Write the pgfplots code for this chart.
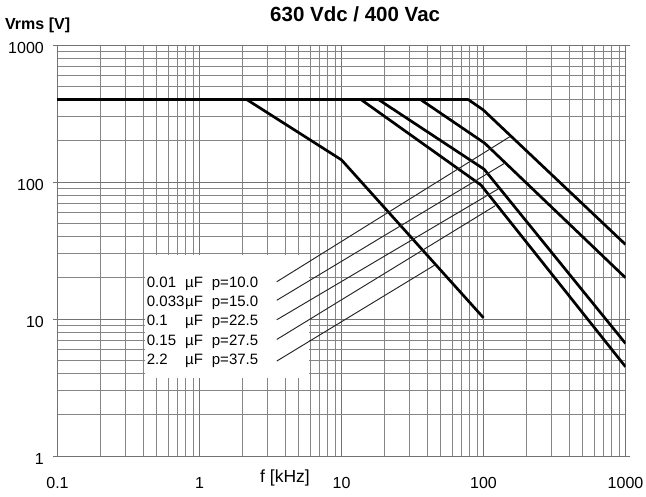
\documentclass[border=0pt]{standalone}
\usepackage{fontspec}
\setmainfont{Liberation Sans}
\usepackage{pgfplots}
\pgfplotsset{compat=1.18}
\begin{document}
\begin{tikzpicture}
\useasboundingbox (0,0) rectangle (646bp,497bp);
\begin{axis}[
  at={(57.5bp,41bp)}, anchor=south west,
  width=568bp, height=411bp, scale only axis,
  xmode=log, ymode=log,
  xmin=0.1, xmax=1000, ymin=1, ymax=1000,
  xtick={0.1,1,10,100,1000}, xticklabels={0.1,1,10,100,1000},
  ytick={1,10,100,1000}, yticklabels={1,10,100,1000},
  grid=both,
  major grid style={black!55, line width=0.85bp},
  minor grid style={black!48, line width=0.85bp},
  axis line style={black!55, line width=0.85bp},
  tick align=outside, major tick length=5bp, minor tick length=0bp,
  xtick style={draw=none},
  ytick style={black!55, line width=0.85bp},
  minor tick style={draw=none},
  ticklabel style={font=\fontsize{16bp}{18bp}\selectfont},
  xticklabel style={anchor=center, inner sep=0pt, yshift=-22bp},
  yticklabel style={anchor=east, inner sep=0pt, xshift=-8.5bp, yshift=-3bp},
  title={630 Vdc / 400 Vac},
  title style={font=\bfseries\fontsize{20.5bp}{23bp}\selectfont, at={(axis description cs:0.524,1)}, anchor=center, yshift=25bp},
  xlabel={f [kHz]},
  xlabel style={font=\fontsize{17.5bp}{20bp}\selectfont, at={(axis description cs:0.4005,0)}, anchor=center, inner sep=0pt, yshift=-22bp},
  ylabel={Vrms [V]},
  ylabel style={font=\bfseries\fontsize{16bp}{18bp}\selectfont, at={(axis description cs:0,1)}, rotate=-90, anchor=west, inner sep=0pt, xshift=-52.5bp, yshift=20bp},
]
% white box behind the legend text
\fill[white] (axis cs:0.41,3.72) rectangle (axis cs:5.9,29.3);
% curves
\addplot[black, line width=2.7bp, line join=round] coordinates {(0.1,400) (2.15,400) (10,145) (100,10.2)};
\addplot[black, line width=2.7bp, line join=round] coordinates {(0.1,400) (13.7,400) (96,95) (1000,4.48)};
\addplot[black, line width=2.7bp, line join=round] coordinates {(0.1,400) (18.2,400) (101,124) (1000,6.63)};
\addplot[black, line width=2.7bp, line join=round] coordinates {(0.1,400) (36,400) (102,192) (1000,20)};
\addplot[black, line width=2.7bp, line join=round] coordinates {(0.1,400) (78,400) (99.5,336) (1000,35)};
% leader lines
\addplot[black!85, line width=0.95bp] coordinates {(3.5,18.7) (153.9,214.7)};
\addplot[black!85, line width=0.95bp] coordinates {(3.5,13.7) (141.6,137.5)};
\addplot[black!85, line width=0.95bp] coordinates {(3.5,9.87) (127,89)};
\addplot[black!85, line width=0.95bp] coordinates {(3.5,7.09) (120.5,67)};
\addplot[black!85, line width=0.95bp] coordinates {(3.5,4.93) (45.5,24.8)};
\end{axis}
\begin{scope}[every node/.style={anchor=base west, inner sep=0pt, font=\fontsize{15bp}{17bp}\selectfont}]
\node at (146.7bp,{(497-287.6)*1bp}) {0.01};
\node at (185bp,{(497-287.6)*1bp}) {µF};
\node at (211.7bp,{(497-287.6)*1bp}) {p=10.0};
\node at (146.7bp,{(497-306.7)*1bp}) {0.033};
\node at (185bp,{(497-306.7)*1bp}) {µF};
\node at (211.7bp,{(497-306.7)*1bp}) {p=15.0};
\node at (146.7bp,{(497-325.9)*1bp}) {0.1};
\node at (185bp,{(497-325.9)*1bp}) {µF};
\node at (211.7bp,{(497-325.9)*1bp}) {p=22.5};
\node at (146.7bp,{(497-345.0)*1bp}) {0.15};
\node at (185bp,{(497-345.0)*1bp}) {µF};
\node at (211.7bp,{(497-345.0)*1bp}) {p=27.5};
\node at (146.7bp,{(497-364.2)*1bp}) {2.2};
\node at (185bp,{(497-364.2)*1bp}) {µF};
\node at (211.7bp,{(497-364.2)*1bp}) {p=37.5};
\end{scope}
\end{tikzpicture}
\end{document}
